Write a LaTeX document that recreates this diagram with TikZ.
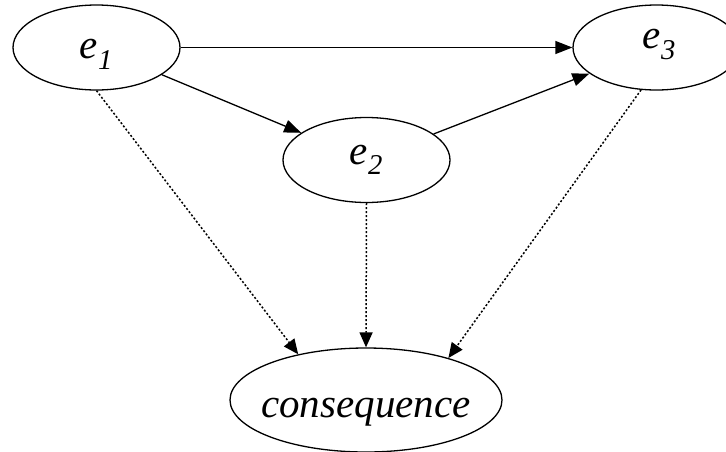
\documentclass[tikz,border=0pt]{standalone}
\usepackage{fontspec}
\setmainfont{Liberation Serif}
\usetikzlibrary{shapes.geometric,arrows.meta}
\begin{document}
\begin{tikzpicture}[x=1pt,y=-1pt,
  event/.style={ellipse,draw,line width=1.3pt,inner sep=0pt,
    minimum width=167pt,minimum height=85pt},
  outcome/.style={ellipse,draw,line width=1.3pt,inner sep=0pt,
    minimum width=272pt,minimum height=104pt},
  lbl/.style={font=\fontsize{41}{45}\selectfont\itshape},
  cause/.style={line width=1.3pt,-{Triangle[length=17pt,width=13pt]}},
  effect/.style={line width=1.5pt,dash pattern=on 2pt off 2pt,
    -{Triangle[length=15pt,width=13pt]}}]
  \useasboundingbox (0,0) rectangle (726,451);
  \clip (0,0) rectangle (726,451);

  % events
  \node[event] (e1) at (96.5,47.5) {};
  \node[lbl] at ([yshift=-7pt]e1.center) {e\textsubscript{1}};
  \node[event] (e2) at (366.5,160) {};
  \node[lbl] at (e2.center) {e\textsubscript{2}};
  \node[event] (e3) at (656.5,47.5) {};
  \node[lbl] at ([xshift=3pt,yshift=3pt]e3.center) {e\textsubscript{3}};
  \node[outcome] (cons) at (366,400) {};
  \node[lbl] at ([yshift=-12pt]cons.center) {consequence};

  % causal order of the events
  \draw[cause] (e1) -- (e3);
  \draw[cause] (e1) -- (e2);
  \draw[cause] (e2) -- (e3);

  % contributions to the consequence
  \draw[effect] (e1.south) -- (cons.146);
  \draw[effect] (e2.south) -- (cons.north);
  \draw[effect] (e3.250) -- (cons.27);
\end{tikzpicture}
\end{document}
